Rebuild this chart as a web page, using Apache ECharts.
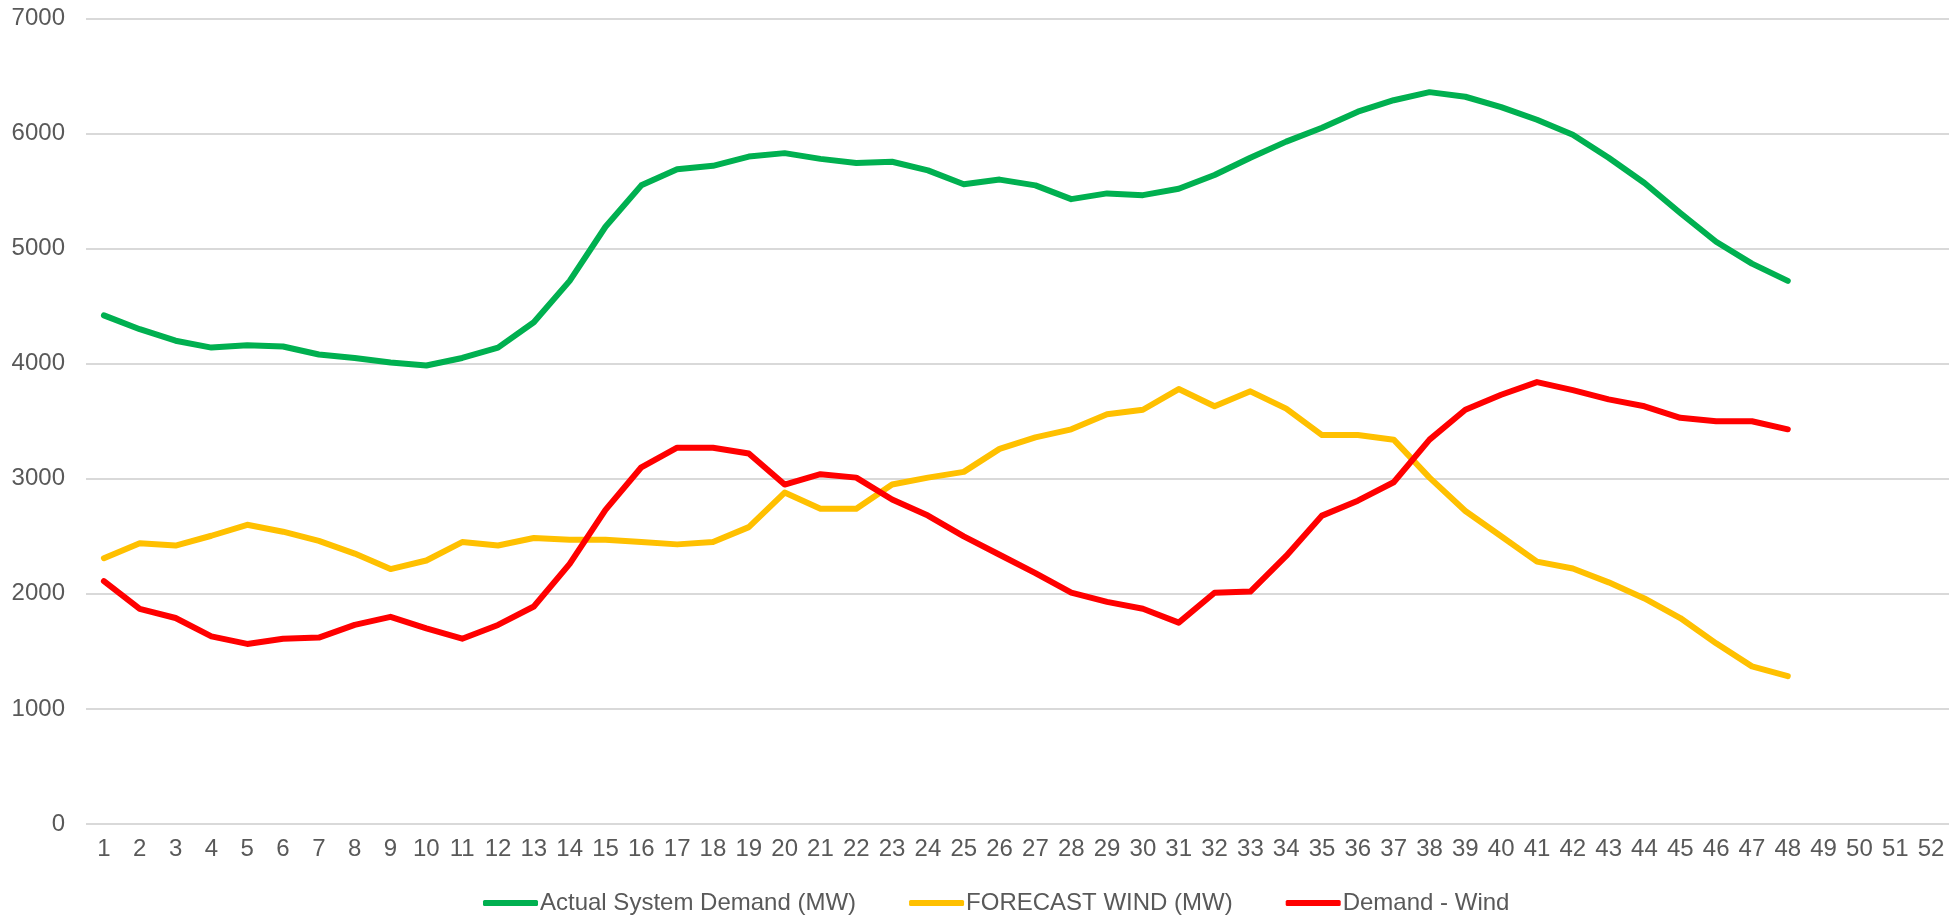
<!DOCTYPE html>
<html>
<head>
<meta charset="utf-8">
<script src="https://cdn.jsdelivr.net/npm/echarts@6/dist/echarts.min.js"></script>
<style>
html,body{margin:0;padding:0;background:#fff;}
#chart{width:1949px;height:916px;}
</style>
</head>
<body>
<div id="chart"></div>
<script>
var categories = [];
for (var i = 1; i <= 52; i++) categories.push(String(i));

var demand = [4420,4300,4200,4140,4160,4150,4080,4050,4010,3985,4050,4140,4360,4720,5190,5550,5690,5720,5800,5830,5780,5745,5755,5680,5560,5600,5550,5430,5480,5465,5520,5640,5790,5930,6050,6190,6290,6360,6320,6230,6120,5990,5790,5570,5310,5060,4870,4720];
var wind = [2310,2440,2420,2505,2600,2540,2460,2350,2215,2290,2450,2420,2485,2470,2470,2450,2430,2450,2580,2880,2740,2740,2950,3010,3060,3260,3360,3430,3560,3600,3780,3630,3760,3610,3380,3380,3340,3010,2720,2500,2280,2220,2100,1960,1790,1570,1370,1285];
var demandMinusWind = [2110,1870,1790,1630,1565,1610,1620,1730,1800,1700,1610,1730,1890,2260,2730,3100,3270,3270,3220,2950,3040,3010,2820,2680,2500,2340,2180,2010,1930,1870,1750,2010,2020,2330,2680,2810,2970,3340,3600,3730,3840,3770,3690,3630,3530,3500,3500,3430];

var seriesNames = ['Actual System Demand (MW)', 'FORECAST WIND (MW)', 'Demand - Wind'];
var colors = ['#00B050', '#FFC000', '#FF0000'];
var font = 'Arial, "Liberation Sans", sans-serif';

var chart = echarts.init(document.getElementById('chart'));
chart.setOption({
  animation: false,
  backgroundColor: '#ffffff',
  color: colors,
  grid: {left: 86, top: 18.5, width: 1867, height: 805.5, containLabel: false},
  legend: {
    data: seriesNames,
    left: 478,
    top: 886,
    icon: 'roundRect',
    itemWidth: 55,
    itemHeight: 6,
    itemGap: 53,
    textStyle: {fontFamily: font, fontSize: 24, color: '#595959', padding: [0,0,0,-3]}
  },
  xAxis: {
    type: 'category',
    data: categories,
    boundaryGap: true,
    axisLine: {show: false},
    axisTick: {show: false},
    axisLabel: {fontFamily: font, fontSize: 24, color: '#595959', margin: 13, interval: 0}
  },
  yAxis: {
    type: 'value',
    min: 0,
    max: 7000,
    interval: 1000,
    axisLine: {show: false},
    axisTick: {show: false},
    axisLabel: {fontFamily: font, fontSize: 24, color: '#595959', margin: 21, formatter: function (v) { return String(v); }},
    splitLine: {lineStyle: {color: '#d9d9d9', width: 2}}
  },
  series: [
    {name: seriesNames[0], type: 'line', data: demand, showSymbol: false, symbol: 'none', lineStyle: {width: 6, color: colors[0], cap: 'round', join: 'round'}},
    {name: seriesNames[1], type: 'line', data: wind, showSymbol: false, symbol: 'none', lineStyle: {width: 6, color: colors[1], cap: 'round', join: 'round'}},
    {name: seriesNames[2], type: 'line', data: demandMinusWind, showSymbol: false, symbol: 'none', lineStyle: {width: 6, color: colors[2], cap: 'round', join: 'round'}}
  ]
});
</script>
</body>
</html>
